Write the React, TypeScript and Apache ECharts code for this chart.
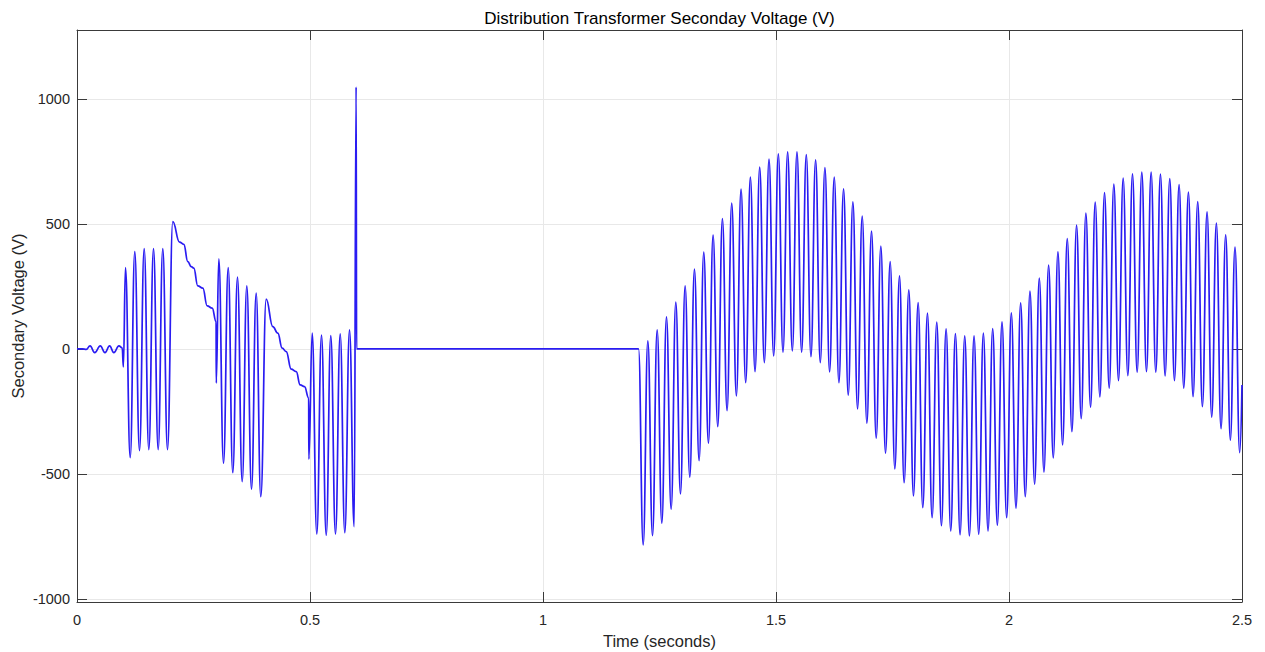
import React, { useEffect, useRef } from "react";
import * as echarts from "echarts";

// Time (s) and secondary voltage (V)
const preFault: [number, number][] = [
  [0, 0], [0.012, 0], [0.02, -2], [0.028, 12], [0.038, -15], [0.05, 12], [0.06, -15],
  [0.07, 12], [0.079, -15], [0.09, 12], [0.097, 4],
];

const stage1: [number, number][] = [
  [0.0995, -72], [0.104, 325], [0.1142, -435], [0.124, 389], [0.1341, -407], [0.1442, 401],
  [0.1541, -403], [0.1642, 401], [0.1742, -403], [0.1841, 401], [0.1942, -403], [0.2056, 509],
  [0.22, 427], [0.2292, 418], [0.2378, 349], [0.2451, 329], [0.2506, 323], [0.2592, 252],
  [0.27, 243], [0.2794, 172], [0.2901, 163], [0.2985, 109],
];

const stage2: [number, number][] = [
  [0.2988, -137], [0.3043, 360], [0.3144, -457], [0.3245, 325], [0.3343, -495], [0.3444, 287],
  [0.3545, -531], [0.3644, 252], [0.3745, -561], [0.3845, 223], [0.3944, -591], [0.406, 199],
  [0.4202, 89], [0.4309, 63], [0.4403, 3], [0.4489, -11], [0.4597, -81], [0.4704, -91],
  [0.479, -144], [0.4882, -151], [0.4972, -197],
];

const stage3: [number, number][] = [
  [0.4975, -441], [0.5047, 63], [0.5146, -740], [0.5247, 55], [0.5348, -745], [0.5446, 53],
  [0.5547, -740], [0.5648, 60], [0.5747, -735], [0.5848, 76], [0.5948, -711], [0.599, 1047],
];

const deadBand: [number, number][] = [
  [0.6, 0], [0.75, 0], [1.0, 0], [1.205, 0],
];

const recovery: [number, number][] = [
  [1.215, -784], [1.225, 32], [1.235, -747], [1.245, 76], [1.255, -697], [1.265, 128],
  [1.275, -641], [1.285, 187], [1.295, -580], [1.305, 252], [1.315, -513], [1.325, 319],
  [1.335, -447], [1.345, 387], [1.355, -377], [1.365, 455], [1.375, -311], [1.385, 521],
  [1.395, -247], [1.405, 583], [1.415, -188], [1.425, 639], [1.435, -135], [1.445, 687],
  [1.455, -91], [1.465, 727], [1.475, -55], [1.485, 759], [1.495, -28], [1.505, 780],
  [1.515, -13], [1.525, 788], [1.535, -8], [1.545, 788], [1.555, -13], [1.565, 777],
  [1.575, -31], [1.585, 756], [1.595, -55], [1.605, 725], [1.615, -92], [1.625, 687],
  [1.635, -135], [1.645, 640], [1.655, -185], [1.665, 588], [1.675, -240], [1.685, 531],
  [1.695, -297], [1.705, 471], [1.715, -357], [1.725, 411], [1.735, -417], [1.745, 349],
  [1.755, -480], [1.765, 292], [1.775, -535], [1.785, 236], [1.795, -588], [1.805, 185],
  [1.815, -635], [1.825, 143], [1.835, -675], [1.845, 107], [1.855, -707], [1.865, 80],
  [1.875, -728], [1.885, 61], [1.895, -743], [1.905, 52], [1.915, -748], [1.925, 52],
  [1.935, -741], [1.945, 63], [1.955, -728], [1.965, 81], [1.975, -705], [1.985, 108],
  [1.995, -675], [2.005, 144], [2.015, -637], [2.025, 184], [2.035, -591], [2.045, 231],
  [2.055, -541], [2.065, 283], [2.075, -492], [2.085, 335], [2.095, -436], [2.105, 388],
  [2.115, -384], [2.125, 441], [2.135, -331], [2.145, 495], [2.155, -279], [2.165, 543],
  [2.175, -233], [2.185, 587], [2.195, -192], [2.205, 625], [2.215, -157], [2.225, 659],
  [2.235, -127], [2.245, 683], [2.255, -107], [2.265, 700], [2.275, -93], [2.285, 707],
  [2.295, -91], [2.305, 707], [2.315, -93], [2.325, 699], [2.335, -108], [2.345, 681],
  [2.355, -127], [2.365, 657], [2.375, -157], [2.385, 627], [2.395, -191], [2.405, 589],
  [2.415, -231], [2.425, 548], [2.435, -273], [2.445, 503], [2.455, -319], [2.465, 456],
  [2.475, -365], [2.485, 407], [2.495, -415], [2.5, -144],
];

const xTicks = [0, 0.5, 1, 1.5, 2, 2.5];
const yRange = [-1012, 1275];

const TITLE = "Distribution Transformer Seconday Voltage (V)";
const X_NAME = "Time (seconds)";
const Y_NAME = "Secondary Voltage (V)";

const FONT = "'Liberation Sans', Arial, Helvetica, sans-serif";
const AXIS_COLOR = "#3a3a3a";
const GRID_COLOR = "#e8e8e8";

export default function App() {
  const ref = useRef<HTMLDivElement>(null);

  useEffect(() => {
    document.body.style.margin = "0";
    if (!ref.current) return;
    const chart = echarts.init(ref.current, undefined, { renderer: "svg" });
    const series = [...preFault, ...stage1, ...stage2, ...stage3, ...deadBand, ...recovery];
    const xStep = xTicks[1] - xTicks[0];
    const plain = (v: number) => String(v);

    const baseX = {
      type: "value" as const,
      min: xTicks[0],
      max: xTicks[xTicks.length - 1],
      interval: xStep,
    };
    const baseY = {
      type: "value" as const,
      min: yRange[0],
      max: yRange[1],
      splitNumber: 5,
    };

    chart.setOption({
      animation: false,
      textStyle: { fontFamily: FONT },
      grid: {
        left: 77,
        right: 23,
        top: 30,
        bottom: 50,
        containLabel: false,
        outerBoundsMode: "none",
      },
      graphic: [
        {
          type: "text",
          x: 659.5,
          y: 18,
          style: {
            text: TITLE,
            fill: "#000",
            font: `17px ${FONT}`,
            textAlign: "center",
            textVerticalAlign: "middle",
          },
        },
      ],
      xAxis: [
        {
          ...baseX,
          position: "bottom",
          name: X_NAME,
          nameLocation: "middle",
          nameGap: 30,
          nameMoveOverlap: false,
          nameTextStyle: { fontSize: 16.5, color: "#262626", fontFamily: FONT },
          axisLine: { show: true, onZero: false, lineStyle: { color: AXIS_COLOR, width: 1 } },
          axisTick: { show: true, inside: true, length: 10, lineStyle: { color: AXIS_COLOR } },
          axisLabel: { show: true, margin: 10, fontSize: 14.5, color: "#262626", fontFamily: FONT, formatter: plain },
          splitLine: { show: true, lineStyle: { color: GRID_COLOR, width: 1 } },
        },
        {
          ...baseX,
          position: "top",
          axisLine: { show: true, onZero: false, lineStyle: { color: AXIS_COLOR, width: 1 } },
          axisTick: { show: true, inside: true, length: 10, lineStyle: { color: AXIS_COLOR } },
          axisLabel: { show: false },
          splitLine: { show: false },
        },
      ],
      yAxis: [
        {
          ...baseY,
          position: "left",
          name: Y_NAME,
          nameLocation: "middle",
          nameGap: 51,
          nameMoveOverlap: false,
          nameTextStyle: { fontSize: 16.5, color: "#262626", fontFamily: FONT },
          axisLine: { show: true, onZero: false, lineStyle: { color: AXIS_COLOR, width: 1 } },
          axisTick: { show: true, inside: true, length: 10, lineStyle: { color: AXIS_COLOR } },
          axisLabel: {
            show: true,
            margin: 7,
            fontSize: 14.5,
            color: "#262626",
            fontFamily: FONT,
            showMinLabel: false,
            showMaxLabel: false,
            formatter: plain,
          },
          splitLine: { show: true, lineStyle: { color: GRID_COLOR, width: 1 } },
        },
        {
          ...baseY,
          position: "right",
          axisLine: { show: true, onZero: false, lineStyle: { color: AXIS_COLOR, width: 1 } },
          axisTick: { show: true, inside: true, length: 10, lineStyle: { color: AXIS_COLOR } },
          axisLabel: { show: false },
          splitLine: { show: false },
        },
      ],
      series: [
        {
          type: "line",
          xAxisIndex: 0,
          yAxisIndex: 0,
          data: series,
          showSymbol: false,
          smooth: 0.45,
          smoothMonotone: "x",
          lineStyle: { color: "#2a1cf2", width: 1.7 },
          silent: true,
        },
      ],
    });

    return () => chart.dispose();
  }, []);

  return <div ref={ref} style={{ width: 1265, height: 652 }} />;
}
